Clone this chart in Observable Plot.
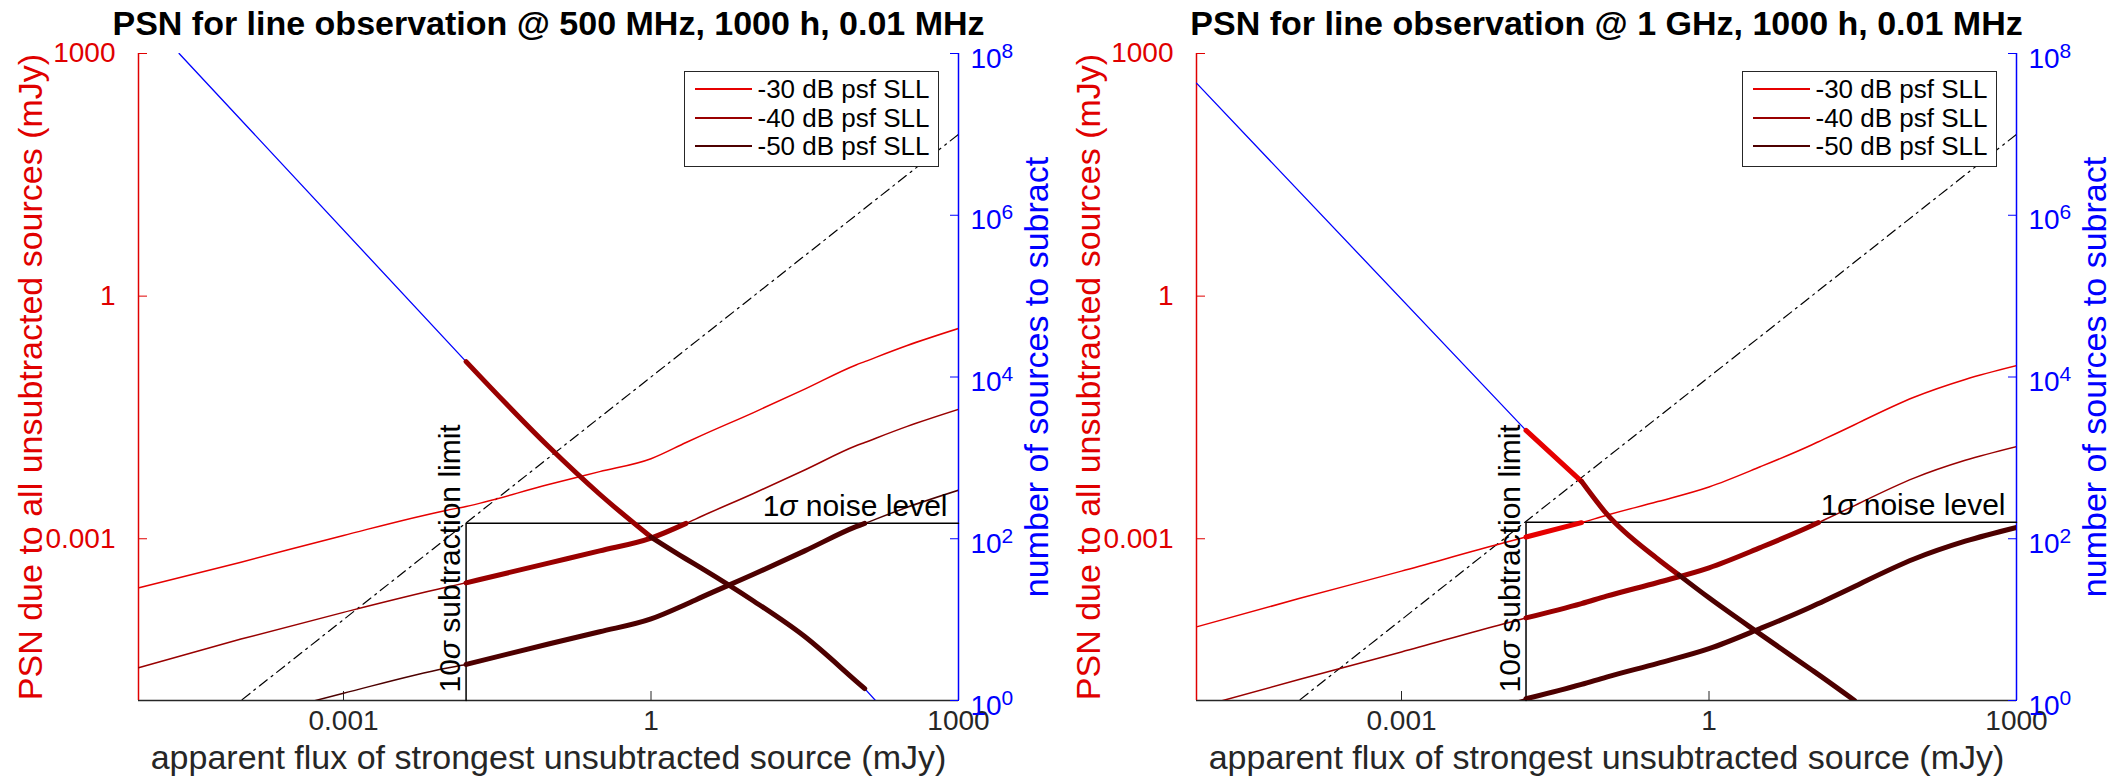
<!DOCTYPE html>
<html>
<head>
<meta charset="utf-8">
<script src="https://cdn.jsdelivr.net/npm/d3@7"></script>
<script src="https://cdn.jsdelivr.net/npm/@observablehq/plot@0.6"></script>
<style>
  html, body { margin: 0; padding: 0; background: #fff; }
  #chart { position: relative; width: 2111px; height: 776px; overflow: hidden;
           font-family: "Liberation Sans", Arial, Helvetica, sans-serif; }
  .panel { position: absolute; top: 0; }
  .legend { position: absolute; width: 255px; height: 96px; box-sizing: border-box;
            border: 1.5px solid #262626; background: #fff; padding: 2.5px 0 0 9.5px; }
  .legend .row { height: 28.7px; display: flex; align-items: center; }
  .legend svg { flex: none; }
  .legend span { margin-left: 6px; font-size: 26px; line-height: 1; color: #000; white-space: nowrap; }
</style>
</head>
<body>
<div id="chart"></div>
<script>
// ---------- shared axes ----------
const xDomain = [1e-5, 1e3];          // apparent flux (mJy)
const yDomain = [1e-5, 1e3];          // PSN (mJy)
const countDomain = [1, 1e8];         // number of sources (right axis)
const xTicks = [0.001, 1, 1000];
const xTickLabels = ["0.001", "1", "1000"];
const yTicks = [0.001, 1, 1000];
const yTickLabels = ["0.001", "1", "1000"];
const countTicks = [1, 1e2, 1e4, 1e6, 1e8];
const countTickExponents = ["0", "2", "4", "6", "8"];

const xLabel = "apparent flux of strongest unsubtracted source (mJy)";
const yLabel = "PSN due to all unsubtracted sources (mJy)";
const countLabel = "number of sources to subract";
const noiseText = "1σ noise level";
const limitText = "10σ subtraction limit";

const sllLabels = ["-30 dB psf SLL", "-40 dB psf SLL", "-50 dB psf SLL"];
const sllColors = ["#e60000", "#990000", "#4d0000"];

// reference line PSN = flux / 10
const diagFlux = [1e-5, 1000];
const diagPsn = [1e-6, 100];

// ---------- 500 MHz ----------
const titleA = "PSN for line observation @ 500 MHz, 1000 h, 0.01 MHz";
const fluxA = [1e-5, 1e-4, 1e-3, 0.01, 0.0157, 0.1, 0.316, 1, 2.2, 3.16, 10, 31.6, 100, 121.6, 316, 1000];
const psn30A = [2.47e-4, 5.13e-4, 1.10e-3, 2.24e-3, 2.51e-3, 4.68e-3, 6.76e-3, 9.77e-3, 0.0155, 0.0191, 0.0363, 0.0708, 0.141, 0.155, 0.245, 0.398];
const psn40A = [2.54e-5, 5.75e-5, 1.23e-4, 2.51e-4, 2.85e-4, 5.00e-4, 7.08e-4, 1.02e-3, 1.55e-3, 1.91e-3, 3.63e-3, 7.08e-3, 0.0141, 0.0155, 0.0245, 0.0398];
const psn50A = [2.6e-6, 5.75e-6, 1.23e-5, 2.51e-5, 2.79e-5, 5.00e-5, 7.08e-5, 1.02e-4, 1.55e-4, 1.91e-4, 3.63e-4, 7.08e-4, 1.41e-3, 1.55e-3, 2.45e-3, 3.98e-3];
const noiseA = 1.56e-3;
const limitA = 0.0157;
const thickEndA = [null, 2.2, 121.6];   // flux where each SLL curve reaches the noise level
const countFluxA = [2.49e-5, 0.0157, 0.1, 0.316, 1, 2.2, 3.16, 10, 31.6, 100, 121.6, 155];
const countA = [1e8, 15500, 1380, 355, 105, 56.2, 42.7, 17.0, 6.17, 1.74, 1.40, 1];
const countBreaksA = [0.0157, 1, 121.6];   // stretches of the count curve drawn thick
const countSllA = [1, 2];                   // SLL of each stretch

// ---------- 1 GHz ----------
const titleB = "PSN for line observation @ 1 GHz, 1000 h, 0.01 MHz";
const fluxB = [1e-5, 1e-4, 1e-3, 0.01, 0.0164, 0.057, 0.1, 0.316, 1, 3.16, 10, 11.7, 26.3, 31.6, 100, 316, 1000];
const psn30B = [8.13e-5, 1.82e-4, 3.98e-4, 8.91e-4, 1.05e-3, 1.58e-3, 1.95e-3, 2.88e-3, 4.37e-3, 7.76e-3, 0.01445, 0.01585, 0.0257, 0.0288, 0.0562, 0.0933, 0.138];
const psn40B = [8.13e-6, 1.82e-5, 3.98e-5, 8.91e-5, 1.05e-4, 1.58e-4, 1.95e-4, 2.88e-4, 4.37e-4, 7.76e-4, 1.445e-3, 1.585e-3, 2.57e-3, 2.88e-3, 5.62e-3, 9.33e-3, 0.0138];
const psn50B = [8.13e-7, 1.82e-6, 3.98e-6, 8.91e-6, 1.05e-5, 1.58e-5, 1.95e-5, 2.88e-5, 4.37e-5, 7.76e-5, 1.445e-4, 1.585e-4, 2.57e-4, 2.88e-4, 5.62e-4, 9.33e-4, 1.38e-3];
const noiseB = 1.60e-3;
const limitB = 0.0164;
const thickEndB = [0.057, 11.7, 1000];
const countFluxB = [1e-5, 0.0164, 0.057, 0.1, 0.316, 0.51, 1, 3.16, 10, 11.7, 26.3];
const countB = [4.3e7, 2190, 513, 204, 56.2, 35.5, 18.6, 6.61, 2.40, 2.09, 1];
const countBreaksB = [0.0164, 0.057, 0.51, 26.3];
const countSllB = [0, 1, 2];

// ---------- styling ----------
const FONT = '"Liberation Sans", Arial, Helvetica, sans-serif';
const RED = "#e00000", BLUE = "#0000ff", GRAY = "#262626";

// the right axis spans the same number of decades as the left one
const toY = n => yDomain[0] * Math.pow(n / countDomain[0],
  Math.log(yDomain[1] / yDomain[0]) / Math.log(countDomain[1] / countDomain[0]));

function panelPlot(p, frame) {
  const rows = (fx, ys) => fx.map((f, i) => ({f, v: ys[i]}));
  const curves = p.psn.map(ys => rows(p.flux, ys));
  const counts = p.countFlux.map((f, i) => ({f, v: toY(p.count[i])}));
  const xFmt = new Map(xTicks.map((t, i) => [t, xTickLabels[i]]));
  const yFmt = new Map(yTicks.map((t, i) => [t, yTickLabels[i]]));
  const lineOpts = {x: "f", y: "v", curve: "monotone-x", clip: true};
  const firstBreak = p.countBreaks[0];
  const lastBreak = p.countBreaks[p.countBreaks.length - 1];
  const lastCount = p.countFlux[p.countFlux.length - 1];

  const marks = [
    // frame lines and ticks
    Plot.ruleY([yDomain[0]], {stroke: GRAY, strokeWidth: 1.5}),
    Plot.axisX({ticks: xTicks, tickFormat: d => xFmt.get(d), tickSize: -9, tickPadding: 19,
                fontSize: 28, color: GRAY, label: null}),
    Plot.axisY({anchor: "left", ticks: yTicks, tickFormat: d => yFmt.get(d), tickSize: -9, tickPadding: 32,
                fontSize: 28, color: RED, label: null}),
    Plot.axisY({anchor: "right", ticks: countTicks.map(toY), tickFormat: () => "", tickSize: -9,
                color: BLUE, label: null}),
    Plot.ruleX([xDomain[0]], {stroke: RED, strokeWidth: 1.5}),
    Plot.ruleX([xDomain[1]], {stroke: BLUE, strokeWidth: 1.5}),
    // right axis labels 10^n
    Plot.text(countTicks.map((n, i) => ({n, e: countTickExponents[i]})), {
      y: d => toY(d.n), frameAnchor: "right", text: () => "10", textAnchor: "start",
      lineAnchor: "bottom", dx: 12, dy: 14, fontSize: 28, fill: BLUE}),
    Plot.text(countTicks.map((n, i) => ({n, e: countTickExponents[i]})), {
      y: d => toY(d.n), frameAnchor: "right", text: "e", textAnchor: "start",
      lineAnchor: "bottom", dx: 43, dy: 4, fontSize: 21, fill: BLUE}),
    // reference line PSN = flux/10
    Plot.line(rows(diagFlux, diagPsn), {x: "f", y: "v", stroke: "#000", strokeWidth: 1.2,
              strokeDasharray: "10,5,2,5", clip: true}),
    // noise level and subtraction limit
    Plot.line([{f: p.limit, v: yDomain[0]}, {f: p.limit, v: p.noise}, {f: xDomain[1], v: p.noise}],
              {x: "f", y: "v", stroke: "#000", strokeWidth: 1.5}),
    // thin SLL curves
    ...curves.map((c, k) => Plot.line(c, {...lineOpts, stroke: sllColors[k], strokeWidth: 1.5})),
    // source counts, thin parts
    Plot.line(counts.filter(d => d.f <= firstBreak), {...lineOpts, stroke: BLUE, strokeWidth: 1.3})
  ];
  if (lastBreak < lastCount) {
    marks.push(Plot.line(counts.filter(d => d.f >= lastBreak), {...lineOpts, stroke: BLUE, strokeWidth: 1.3}));
  }

  // thick parts: above the subtraction limit and below the noise level
  curves.forEach((c, k) => {
    const end = p.thickEnd[k];
    if (end == null) return;
    marks.push(Plot.line(c.filter(d => d.f >= p.limit && d.f <= end),
      {...lineOpts, stroke: sllColors[k], strokeWidth: 5}));
  });
  // thick stretches of the count curve, coloured by SLL
  p.countSll.forEach((k, j) => {
    const lo = p.countBreaks[j], hi = p.countBreaks[j + 1];
    marks.push(Plot.line(counts.filter(d => d.f >= lo && d.f <= hi),
      {...lineOpts, stroke: sllColors[k], strokeWidth: 5}));
  });

  marks.push(
    Plot.text([noiseText], {frameAnchor: "right", y: () => p.noise, text: d => d, textAnchor: "end",
      lineAnchor: "bottom", dx: -11, dy: -7, fontSize: 30, fill: "#000"}),
    Plot.text([limitText], {frameAnchor: "bottom", x: () => p.limit, text: d => d, rotate: -90,
      textAnchor: "start", lineAnchor: "bottom", dx: -6, dy: -8, fontSize: 30, fill: "#000"}),
    Plot.text([p.title], {frameAnchor: "top", text: d => d, textAnchor: "middle", lineAnchor: "bottom",
      dy: -19, fontSize: 34, fontWeight: "bold", fill: "#000"}),
    Plot.text([xLabel], {frameAnchor: "bottom", text: d => d, textAnchor: "middle", lineAnchor: "bottom",
      dy: 68, fontSize: 34, fill: GRAY}),
    Plot.text([yLabel], {frameAnchor: "left", text: d => d, rotate: -90, textAnchor: "middle",
      lineAnchor: "bottom", dx: -97, fontSize: 34, fill: RED}),
    Plot.text([countLabel], {frameAnchor: "right", text: d => d, rotate: -90, textAnchor: "middle",
      lineAnchor: "bottom", dx: 89, fontSize: 34, fill: BLUE})
  );

  const svg = Plot.plot({
    width: frame.width, height: 776,
    marginTop: 53, marginBottom: 76, marginLeft: frame.marginLeft, marginRight: frame.marginRight,
    x: {type: "log", domain: xDomain, label: null},
    y: {type: "log", domain: yDomain, label: null},
    style: {fontFamily: FONT, background: "transparent", overflow: "visible"},
    marks
  });
  // italic sigma in the annotations
  svg.querySelectorAll("text").forEach(t => {
    if (t.children.length === 0 && t.textContent.includes("σ")) {
      const parts = t.textContent.split("σ");
      t.textContent = "";
      parts.forEach((s, i) => {
        if (i > 0) {
          const ts = document.createElementNS("http://www.w3.org/2000/svg", "tspan");
          ts.setAttribute("font-style", "italic");
          ts.textContent = "σ";
          t.appendChild(ts);
        }
        t.appendChild(document.createTextNode(s));
      });
    }
  });
  return svg;
}

function legendBox(left, top) {
  const div = document.createElement("div");
  div.className = "legend";
  div.style.left = left + "px";
  div.style.top = top + "px";
  sllLabels.forEach((label, k) => {
    const row = document.createElement("div");
    row.className = "row";
    row.innerHTML = `<svg width="57" height="4"><line x1="0" x2="57" y1="2" y2="2" stroke="${sllColors[k]}" stroke-width="2"/></svg><span>${label}</span>`;
    div.appendChild(row);
  });
  return div;
}

const chart = document.getElementById("chart");
const panels = [
  {p: {title: titleA, flux: fluxA, psn: [psn30A, psn40A, psn50A], noise: noiseA, limit: limitA,
       thickEnd: thickEndA, countFlux: countFluxA, count: countA,
       countBreaks: countBreaksA, countSll: countSllA},
   frame: {left: 0, width: 1055, marginLeft: 138, marginRight: 97}},
  {p: {title: titleB, flux: fluxB, psn: [psn30B, psn40B, psn50B], noise: noiseB, limit: limitB,
       thickEnd: thickEndB, countFlux: countFluxB, count: countB,
       countBreaks: countBreaksB, countSll: countSllB},
   frame: {left: 1055, width: 1056, marginLeft: 141, marginRight: 95}}
];
panels.forEach(({p, frame}) => {
  const wrap = document.createElement("div");
  wrap.className = "panel";
  wrap.style.left = frame.left + "px";
  wrap.appendChild(panelPlot(p, frame));
  chart.appendChild(wrap);
  const frameRight = frame.left + frame.width - frame.marginRight;
  chart.appendChild(legendBox(frameRight - 19 - 255, 53 + 18));
});
</script>
</body>
</html>
